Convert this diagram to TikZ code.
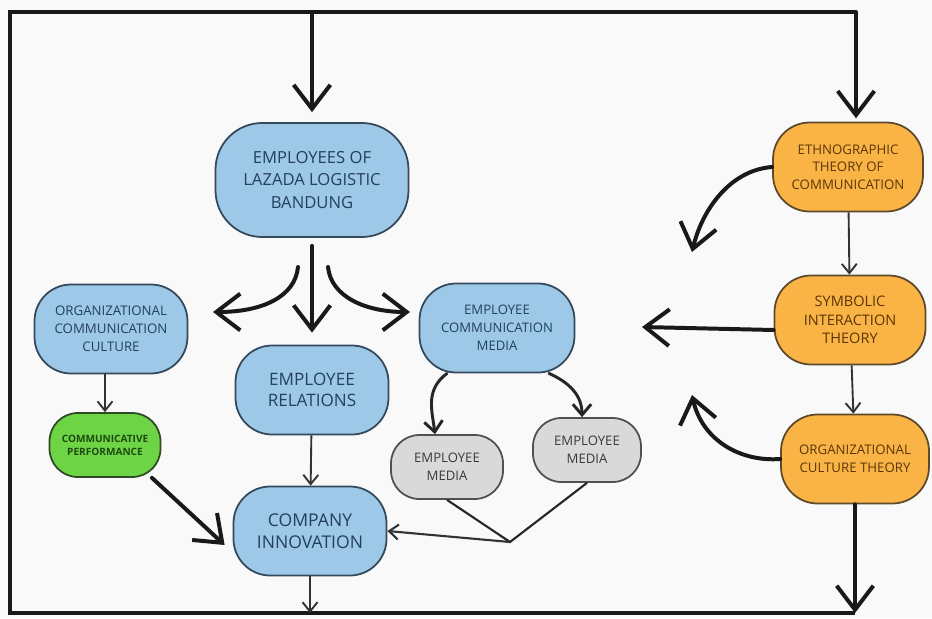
\documentclass[tikz,border=0pt]{standalone}
\usepackage{fontspec}
\setmainfont{Open Sans}
\usetikzlibrary{arrows.meta}
\newcommand{\px}{0.03cm}
\definecolor{paper}{HTML}{F9F9F9}
\definecolor{boxblue}{HTML}{9DC8E8}
\definecolor{lineblue}{HTML}{34495C}
\definecolor{inkblue}{HTML}{24405E}
\definecolor{boxorange}{HTML}{FAB446}
\definecolor{lineorange}{HTML}{5E4A2A}
\definecolor{inkorange}{HTML}{5A3608}
\definecolor{boxgreen}{HTML}{6DD446}
\definecolor{linegreen}{HTML}{2F4A24}
\definecolor{inkgreen}{HTML}{1E4A12}
\definecolor{boxgrey}{HTML}{D9D9D9}
\definecolor{linegrey}{HTML}{505050}
\definecolor{inkgrey}{HTML}{3A3A3A}

\begin{document}
\begin{tikzpicture}[x=\px,y=-\px,
  box/.style={rectangle,rounded corners=1.1cm,line width=1.5pt,align=center,inner sep=0pt,
    minimum width=153*\px,minimum height=89*\px},
  bluebox/.style={box,draw=lineblue,fill=boxblue,text=inkblue},
  orangebox/.style={box,draw=lineorange,fill=boxorange,text=inkorange,
    font=\fontsize{11.3}{15}\selectfont},
  greybox/.style={box,draw=linegrey,fill=boxgrey,text=inkgrey,rounded corners=0.85cm,
    minimum width=110*\px,minimum height=64*\px,font=\fontsize{11.2}{15}\selectfont},
  frame/.style={line width=2.6pt,black!90},
  bigarr/.style={line width=3.4pt,black!90,line cap=round,
    -{Straight Barb[length=0.72cm,width=1.1cm]}},
  midarr/.style={line width=2.5pt,black!85,line cap=round,
    -{Straight Barb[length=0.32cm,width=0.55cm]}},
  thinarr/.style={line width=1.6pt,black!80,
    -{Straight Barb[length=0.28cm,width=0.45cm]}},
  joinline/.style={line width=1.8pt,black!85}]
\fill[paper] (0,0) rectangle (932,618);
\useasboundingbox (0,0) rectangle (932,618);

\coordinate (tl) at (10,12);
\coordinate (tr) at (856,12);
\coordinate (bl) at (10,613);

\node[bluebox,minimum width=193*\px,minimum height=114*\px,rounded corners=1.4cm,
  font=\fontsize{14.2}{19}\selectfont] (lazada) at (312,180) {EMPLOYEES OF\\LAZADA LOGISTIC\\BANDUNG};
\node[bluebox,font=\fontsize{11.3}{15.5}\selectfont] (occ) at (111,329) {ORGANIZATIONAL\\COMMUNICATION\\CULTURE};
\node[bluebox,font=\fontsize{14.6}{18}\selectfont] (rel) at (312,390) {EMPLOYEE\\RELATIONS};
\node[bluebox,minimum width=155*\px,font=\fontsize{11.2}{15.5}\selectfont] (ecm) at (497,328) {EMPLOYEE\\COMMUNICATION\\MEDIA};
\node[bluebox,font=\fontsize{15}{18.5}\selectfont] (ci) at (310,531) {COMPANY\\INNOVATION};
\node[box,draw=linegreen,fill=boxgreen,text=inkgreen,rounded corners=0.85cm,
  minimum width=111*\px,minimum height=64*\px,font=\bfseries\fontsize{8.6}{11}\selectfont] (cp) at (105,445) {COMMUNICATIVE\\PERFORMANCE};
\node[greybox,minimum width=112*\px] (em1) at (447,467) {EMPLOYEE\\MEDIA};
\node[greybox,minimum width=108*\px] (em2) at (587,450) {EMPLOYEE\\MEDIA};
\node[orangebox,minimum width=150*\px] (eth) at (848,167) {ETHNOGRAPHIC\\THEORY OF\\COMMUNICATION};
\node[orangebox,minimum width=151*\px,font=\fontsize{12.4}{16}\selectfont] (sym) at (850,320) {SYMBOLIC\\INTERACTION\\THEORY};
\node[orangebox,minimum width=148*\px] (oct) at (855,459) {ORGANIZATIONAL\\CULTURE THEORY};

\coordinate (lstart) at (298,267);
\coordinate (ltip) at (213,312);
\coordinate (rstart) at (328,267);
\coordinate (rtip) at (410,312);
\coordinate (ethtip) at (692,252);
\coordinate (symtip) at (642,327);
\coordinate (octtip) at (692,395);
\coordinate (join) at (510,542);

\draw[frame] (tr) -- (tl) -- (bl) -- (oct |- bl);
\draw[bigarr,shorten >=0.3cm] (lazada |- tl) -- (lazada.north);
\draw[bigarr,shorten >=0.1cm] (tr) -- (tr |- eth.north);

\draw[bigarr,shorten <=0.24cm,shorten >=0.36cm] (lazada.south) -- (rel.north);
\draw[bigarr] (lstart) .. controls (295,297) and (262,312) .. (ltip);
\draw[bigarr] (rstart) .. controls (331,297) and (366,312) .. (rtip);

\draw[thinarr] (occ.south -| cp) -- (cp.north);
\draw[bigarr] (cp.-35) -- ([xshift=-0.24cm,yshift=-0.42cm]ci.west);
\draw[thinarr] (rel) -- (ci);
\draw[thinarr] (ci) -- (ci |- bl);

\draw[midarr] ([xshift=-1.5cm]ecm.south) .. controls (425,390) and (432,410) .. ([xshift=-0.36cm]em1.north);
\draw[midarr] ([xshift=1.56cm]ecm.south) .. controls (575,385) and (582,400) .. ([xshift=-0.15cm]em2.north);
\draw[joinline] (em1.south) -- (join) -- (em2.south);
\draw[thinarr,line width=1.8pt] (join) -- (ci.east);

\draw[thinarr] (eth) -- (sym);
\draw[thinarr] (sym) -- (oct);
\draw[bigarr] (oct) -- (oct |- bl);
\draw[bigarr] (eth.west) .. controls (730,170) and (702,210) .. (ethtip);
\draw[bigarr] ([yshift=-0.3cm]sym.west) -- (symtip);
\draw[bigarr] (oct.west) .. controls (740,462) and (702,440) .. (octtip);
\end{tikzpicture}
\end{document}
